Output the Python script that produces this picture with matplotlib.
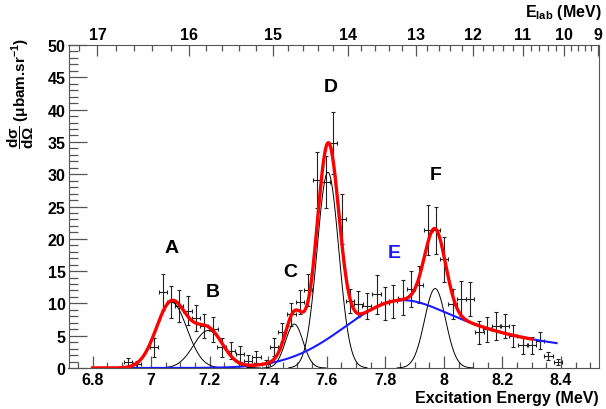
import numpy as np
import matplotlib
matplotlib.use("Agg")
from matplotlib import pyplot as plt
from matplotlib.ticker import MultipleLocator, FixedLocator

plt.rcParams['font.family'] = ['Liberation Sans', 'DejaVu Sans']
plt.rcParams['mathtext.fontset'] = 'custom'
plt.rcParams['mathtext.rm'] = 'Liberation Sans:bold'
plt.rcParams['mathtext.it'] = 'Liberation Sans:bold'

# measured points (excitation energy, cross section, error)
ex = [6.922, 6.951, 7.011, 7.040, 7.067, 7.095, 7.125, 7.153, 7.181, 7.213,
      7.241, 7.272, 7.304, 7.332, 7.360, 7.392, 7.420, 7.447, 7.479, 7.509,
      7.536, 7.566, 7.596, 7.622, 7.651, 7.679, 7.708, 7.736, 7.770, 7.799,
      7.827, 7.859, 7.888, 7.916, 7.947, 7.973, 8.001, 8.030, 8.060, 8.090,
      8.121, 8.148, 8.178, 8.209, 8.237, 8.269, 8.300, 8.328, 8.357, 8.389]
xs = [0.9, 0.6, 3.2, 11.8, 10.2, 9.6, 8.9, 7.8, 6.5, 6.0,
      3.2, 2.7, 2.2, 1.1, 1.7, 0.6, 3.3, 5.5, 8.3, 10.2,
      12.1, 29.1, 28.8, 34.9, 23.1, 10.4, 9.9, 9.6, 11.4, 10.0,
      10.3, 10.9, 12.2, 12.9, 21.4, 21.3, 16.8, 9.9, 10.7, 10.7,
      5.5, 6.0, 6.5, 6.5, 5.0, 3.5, 3.5, 4.2, 1.9, 0.9]
err = [0.6, 0.5, 1.5, 2.8, 2.5, 2.5, 2.2, 2.0, 1.9, 1.9,
       1.5, 1.3, 1.2, 0.9, 1.0, 0.6, 1.4, 1.5, 1.8, 1.9,
       2.5, 4.3, 4.0, 4.8, 3.9, 1.9, 2.0, 2.0, 3.0, 2.5,
       2.6, 2.7, 2.8, 2.9, 3.9, 3.7, 3.5, 2.3, 2.7, 2.6,
       1.8, 1.9, 2.1, 1.9, 1.7, 1.3, 1.3, 1.3, 0.65, 0.5]
bin_half = 0.0143

# fitted peaks A, B, C, D, F (gaussians): centre, height, sigma
peaks = ['A', 'B', 'C', 'D', 'F']
centres = [7.070, 7.195, 7.489, 7.604, 7.970]
heights = [10.2, 5.8, 6.8, 30.3, 12.3]
sigmas = [0.052, 0.050, 0.030, 0.037, 0.036]
# broad state E (blue): centre, height, left sigma, right width
e_centre, e_height, e_sig_left, e_wid_right = 7.86, 10.5, 0.198, 0.207

# upper axis calibration: E_lab -> excitation energy
elab = [17, 16, 15, 14, 13, 12, 11, 10, 9]
elab_ex = [6.817, 7.129, 7.416, 7.672, 7.905, 8.100, 8.270, 8.410, 8.527]

labels = ['A', 'B', 'C', 'D', 'E', 'F']
label_x = [7.071, 7.211, 7.475, 7.612, 7.830, 7.971]
label_y = [18.6, 11.9, 14.9, 43.5, 17.9, 30.0]
label_c = ['black', 'black', 'black', 'black', '#1a1aff', 'black']


def gauss(x, c, h, s):
    return h * np.exp(-0.5 * ((x - c) / s) ** 2)


def broad(x):
    left = e_height * np.exp(-0.5 * ((x - e_centre) / e_sig_left) ** 2)
    right = e_height / np.sqrt(1 + ((x - e_centre) / e_wid_right) ** 2)
    return np.where(x < e_centre, left, right)


fig = plt.figure(figsize=(6.06, 4.10), dpi=100)
ax = fig.add_axes([68.5 / 606, 1 - 369 / 410, 530 / 606, 323 / 410])
xmin, xmax = 6.718, 8.528
ax.set_xlim(xmin, xmax)
ax.set_ylim(0, 50)

ax.errorbar(ex, xs, yerr=err, xerr=bin_half, fmt='none', ecolor='#222222',
            elinewidth=0.8, capsize=1.5, capthick=0.8, zorder=2)

for c, h, s in zip(centres, heights, sigmas):
    xx = np.linspace(c - 3.6 * s, c + 3.6 * s, 120)
    ax.plot(xx, gauss(xx, c, h, s), color='black', lw=0.7, zorder=3)

xb = np.linspace(6.80, 8.385, 400)
ax.plot(xb, broad(xb), color='#1a1aff', lw=1.5, zorder=4)

xt = np.linspace(6.80, 8.30, 700)
total = broad(xt)
for c, h, s in zip(centres, heights, sigmas):
    total = total + gauss(xt, c, h, s)
ax.plot(xt, total, color='red', lw=2.4, zorder=5)

for t, x, y, col in zip(labels, label_x, label_y, label_c):
    ax.text(x, y, t, ha='center', va='center', fontsize=14,
            fontweight='bold', color=col)

frame = '#555555'
for sp in ax.spines.values():
    sp.set_color(frame)
ax.spines['top'].set_visible(False)

ax.xaxis.set_major_locator(MultipleLocator(0.2))
ax.xaxis.set_minor_locator(MultipleLocator(0.05))
ax.yaxis.set_major_locator(MultipleLocator(5))
ax.yaxis.set_minor_locator(MultipleLocator(1))
ax.tick_params(axis='x', which='major', direction='in', length=9, width=0.9,
               colors=frame, labelcolor='black', labelsize=11.5, pad=3,
               top=False, right=False)
ax.tick_params(axis='x', which='minor', direction='in', length=4.5, width=0.9,
               colors=frame, top=False)
ax.tick_params(axis='y', which='major', direction='in', length=13, width=0.9,
               colors=frame, labelcolor='black', labelsize=11.5, pad=2,
               right=False)
ax.tick_params(axis='y', which='minor', direction='in', length=6.5, width=0.9,
               colors=frame, right=False)
ax.set_xticks([6.8, 7.0, 7.2, 7.4, 7.6, 7.8, 8.0, 8.2, 8.4])
ax.set_xticklabels(['6.8', '7', '7.2', '7.4', '7.6', '7.8', '8', '8.2', '8.4'])
for lab in ax.get_xticklabels() + ax.get_yticklabels():
    lab.set_fontweight('bold')

# upper E_lab axis
top = ax.twiny()
top.set_xlim(xmin, xmax)
top.spines['top'].set_color(frame)
for k in ['bottom', 'left', 'right']:
    top.spines[k].set_visible(False)
top.set_xticks(elab_ex)
top.set_xticklabels([str(v) for v in elab], fontweight='bold')
minor_elab = np.arange(9.2, 17.3, 0.2)
minor_elab = [v for v in minor_elab if abs(v - round(v)) > 0.05]
minor_pos = np.interp(minor_elab, elab[::-1], elab_ex[::-1],
                      right=elab_ex[0] - 0.2 * (elab_ex[1] - elab_ex[0]))
top.xaxis.set_minor_locator(FixedLocator(minor_pos))
top.tick_params(axis='x', which='major', direction='in', length=8, width=0.9,
                colors=frame, labelcolor='black', labelsize=11.5, pad=2)
top.tick_params(axis='x', which='minor', direction='in', length=4, width=0.9,
                colors=frame)

fig.text(599 / 606, 1 - 399 / 410, 'Excitation Energy (MeV)', ha='right',
         va='center', fontsize=11.5, fontweight='bold')
fig.text(602 / 606, 1 - 12 / 410, r'E$_{\mathrm{lab}}$ (MeV)', ha='right',
         va='center', fontsize=11.5, fontweight='bold')
fig.text(21 / 606, 1 - 38 / 410,
         r'$\dfrac{\mathrm{d}\sigma}{\mathrm{d}\Omega}$ ($\mu$bam.sr$^{-1}$)',
         rotation=90, ha='center', va='top', fontsize=11, fontweight='bold')

fig.savefig('out.png', dpi=100)
